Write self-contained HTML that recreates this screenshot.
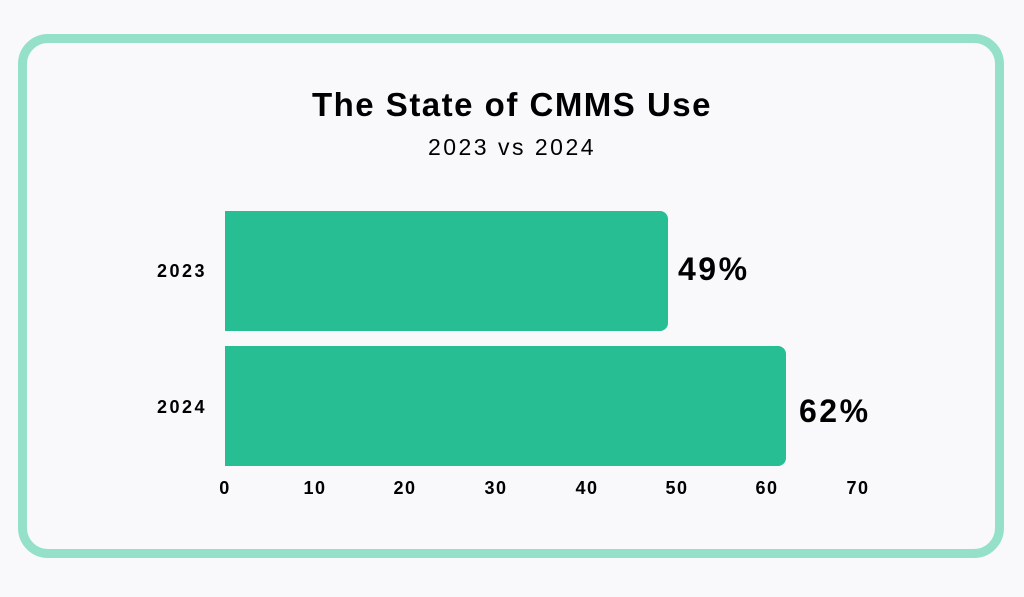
<!DOCTYPE html>
<html><head><style>
html,body{margin:0;padding:0;width:1024px;height:597px;background:#f9f9fc;overflow:hidden;font-family:"Liberation Sans",sans-serif;}
.card{position:absolute;left:18px;top:34px;width:968px;height:506px;border:9px solid #95e0c8;border-radius:30px;background:#f9f9fc;}
.t{position:absolute;left:0;width:1024px;text-align:center;color:#000;}
.bar{position:absolute;left:225px;background:#28be94;border-radius:0 8px 8px 0;height:120px;}
.lbl{position:absolute;font-weight:bold;color:#000;}
.yl{position:absolute;right:817px;font-weight:bold;font-size:18px;letter-spacing:2.5px;}
.tick{position:absolute;top:478px;width:60px;margin-left:-30px;text-align:center;font-weight:bold;font-size:18px;letter-spacing:1.5px;}
</style></head><body>
<div class="card"></div>
<div class="t" style="top:86px;font-size:33px;font-weight:bold;letter-spacing:1.5px;">The State of CMMS Use</div>
<div class="t" style="top:134px;font-size:23px;letter-spacing:2.5px;">2023 vs 2024</div>
<div class="bar" style="top:211px;width:443px;"></div>
<div class="bar" style="top:346px;width:561px;"></div>
<div class="yl" style="top:261px;">2023</div>
<div class="yl" style="top:397px;">2024</div>
<div class="lbl" style="left:678px;top:251px;font-size:32px;letter-spacing:2.5px;">49%</div>
<div class="lbl" style="left:799px;top:393px;font-size:32px;letter-spacing:2.5px;">62%</div>
<div class="tick" style="left:225px">0</div>
<div class="tick" style="left:315px">10</div>
<div class="tick" style="left:405px">20</div>
<div class="tick" style="left:496px">30</div>
<div class="tick" style="left:587px">40</div>
<div class="tick" style="left:677px">50</div>
<div class="tick" style="left:767px">60</div>
<div class="tick" style="left:858px">70</div>
</body></html>
